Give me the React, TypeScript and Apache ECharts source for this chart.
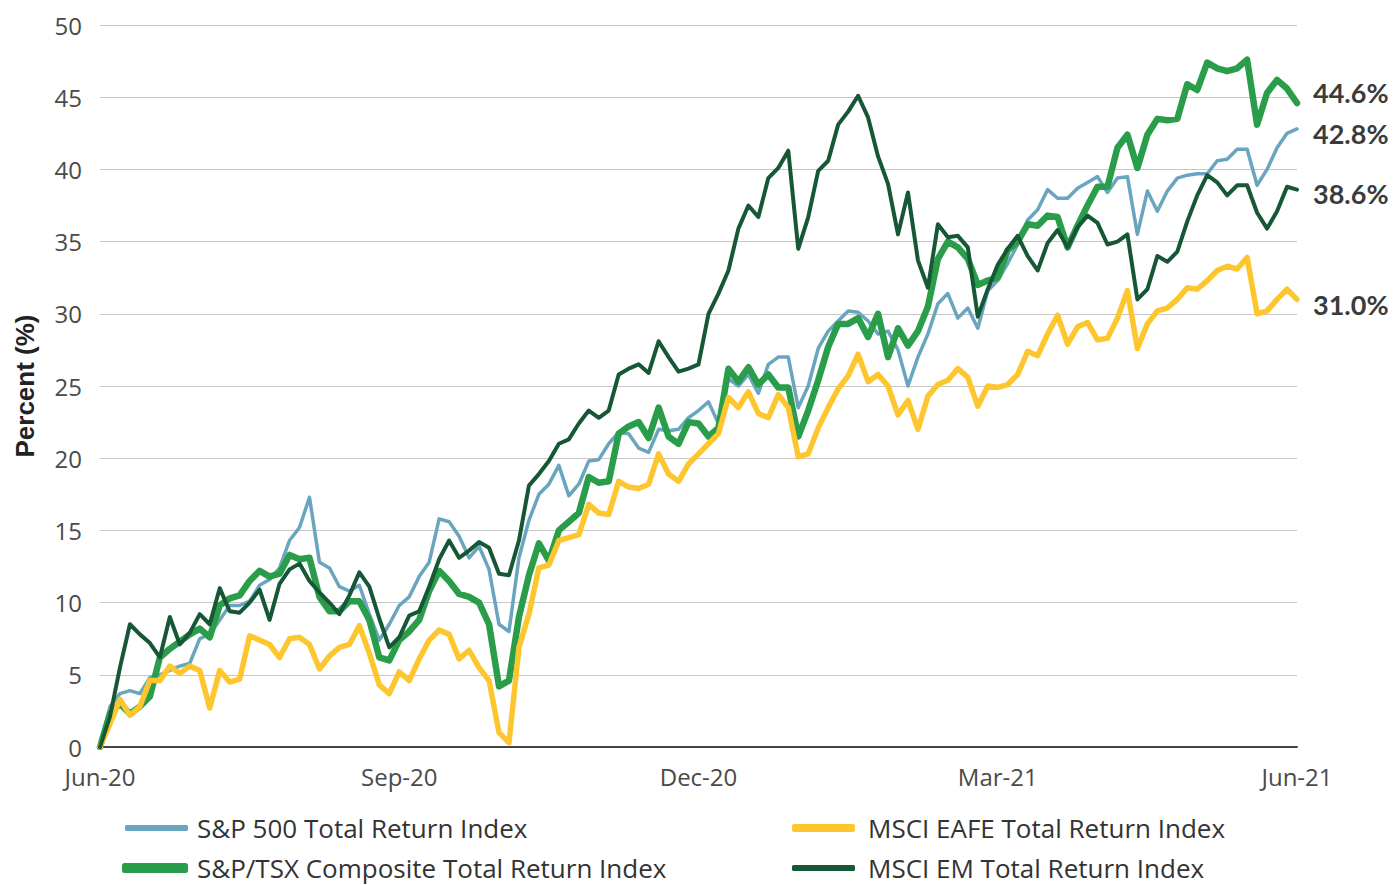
import React, { useEffect, useRef } from "react";
import * as echarts from "echarts";

const xTickLabels = ["Jun-20", "Sep-20", "Dec-20", "Mar-21", "Jun-21"];
const yTicks = [0, 5, 10, 15, 20, 25, 30, 35, 40, 45, 50];

const seriesNames = [
  "S&P 500 Total Return Index",
  "S&P/TSX Composite Total Return Index",
  "MSCI EAFE Total Return Index",
  "MSCI EM Total Return Index",
];

const sp500 = [
  0, 2.8, 3.7, 3.9, 3.7, 4.8, 5.0, 5.3, 5.6, 5.8, 7.5, 7.8, 8.8, 9.8, 9.8, 10.1, 11.2, 11.6, 12.4, 14.3, 15.2,
  17.3, 12.8, 12.4, 11.1, 10.8, 11.2, 9.2, 7.4, 8.5, 9.8, 10.4, 11.8, 12.8, 15.8, 15.6, 14.6, 13.1, 13.9, 12.3, 8.5,
  8.0, 13.1, 15.7, 17.5, 18.2, 19.5, 17.4, 18.2, 19.8, 19.9, 21.0, 21.8, 21.7, 20.7, 20.4, 22.0, 21.9, 22.0, 22.8, 23.3,
  23.9, 22.4, 25.5, 25.0, 25.8, 24.5, 26.5, 27.0, 27.0, 23.5, 25.0, 27.6, 28.8, 29.5, 30.2, 30.1, 29.5, 28.6, 28.8, 27.5,
  25.0, 27.0, 28.6, 30.7, 31.4, 29.7, 30.4, 29.0, 31.6, 32.3, 33.5, 34.8, 36.5, 37.2, 38.6, 38.0, 38.0, 38.7, 39.1, 39.5,
  38.4, 39.4, 39.5, 35.5, 38.5, 37.1, 38.5, 39.4, 39.6, 39.7, 39.7, 40.6, 40.7, 41.4, 41.4, 38.9, 40.0, 41.5, 42.5, 42.8,
];

const tsx = [
  0, 2.3, 3.0, 2.3, 2.8, 3.5, 6.2, 6.8, 7.3, 7.8, 8.2, 7.6, 9.8, 10.3, 10.5, 11.5, 12.2, 11.8, 12.0, 13.3, 13.0,
  13.1, 10.4, 9.4, 9.4, 10.1, 10.1, 8.8, 6.2, 6.0, 7.4, 8.0, 8.8, 10.8, 12.2, 11.5, 10.6, 10.4, 10.0, 8.5, 4.2,
  4.6, 9.0, 11.9, 14.1, 12.9, 15.0, 15.6, 16.2, 18.7, 18.3, 18.4, 21.7, 22.2, 22.5, 21.4, 23.5, 21.5, 21.0, 22.5, 22.4,
  21.5, 22.1, 26.2, 25.3, 26.3, 25.1, 25.8, 24.9, 24.9, 21.5, 23.3, 25.4, 27.7, 29.3, 29.3, 29.7, 28.4, 30.0, 27.0, 29.0,
  27.8, 28.8, 30.5, 33.8, 35.0, 34.6, 33.8, 32.0, 32.3, 32.5, 34.4, 35.0, 36.2, 36.1, 36.8, 36.7, 34.6, 36.1, 37.5, 38.8,
  38.8, 41.5, 42.4, 40.1, 42.4, 43.5, 43.4, 43.5, 45.9, 45.5, 47.4, 47.0, 46.8, 47.0, 47.6, 43.1, 45.3, 46.2, 45.6, 44.6,
];

const eafe = [
  0, 1.6, 3.3, 2.2, 2.8, 4.6, 4.6, 5.6, 5.1, 5.6, 5.3, 2.7, 5.3, 4.5, 4.7, 7.7, 7.4, 7.1, 6.2, 7.5, 7.6,
  7.1, 5.4, 6.3, 6.9, 7.1, 8.4, 6.5, 4.3, 3.7, 5.2, 4.6, 6.1, 7.4, 8.1, 7.8, 6.1, 6.7, 5.5, 4.6, 1.0,
  0.3, 6.9, 9.2, 12.4, 12.6, 14.3, 14.5, 14.7, 16.8, 16.2, 16.1, 18.4, 18.0, 17.9, 18.2, 20.3, 18.9, 18.4, 19.6, 20.3,
  21.0, 21.7, 24.2, 23.5, 24.6, 23.1, 22.8, 24.4, 23.5, 20.1, 20.3, 22.1, 23.5, 24.8, 25.7, 27.2, 25.3, 25.8, 25.0, 23.0,
  24.0, 22.0, 24.3, 25.1, 25.4, 26.2, 25.6, 23.6, 25.0, 24.9, 25.1, 25.8, 27.4, 27.1, 28.6, 29.9, 27.9, 29.1, 29.4, 28.2,
  28.3, 29.7, 31.6, 27.6, 29.3, 30.2, 30.4, 31.0, 31.8, 31.7, 32.3, 33.0, 33.3, 33.1, 33.9, 30.0, 30.2, 31.0, 31.7, 31.0,
];

const em = [
  0, 2.1, 5.5, 8.5, 7.8, 7.2, 6.2, 9.0, 7.1, 7.9, 9.2, 8.5, 11.0, 9.4, 9.3, 10.0, 10.9, 8.8, 11.3, 12.3, 12.7,
  11.5, 10.7, 10.0, 9.2, 10.5, 12.1, 11.1, 8.9, 6.9, 7.6, 9.1, 9.4, 11.1, 13.0, 14.3, 13.1, 13.6, 14.2, 13.8, 12.0,
  11.9, 14.3, 18.1, 18.9, 19.8, 21.0, 21.3, 22.4, 23.3, 22.8, 23.3, 25.8, 26.2, 26.5, 25.9, 28.1, 27.0, 26.0, 26.2, 26.5,
  30.0, 31.4, 33.0, 35.9, 37.5, 36.7, 39.4, 40.1, 41.3, 34.5, 36.7, 39.9, 40.6, 43.1, 44.0, 45.1, 43.6, 40.9, 39.0, 35.5,
  38.4, 33.7, 31.8, 36.2, 35.3, 35.4, 34.6, 29.8, 31.7, 33.4, 34.5, 35.4, 34.0, 33.0, 34.9, 35.8, 34.6, 36.0, 36.8, 36.3,
  34.8, 35.0, 35.5, 31.0, 31.7, 34.0, 33.6, 34.3, 36.4, 38.2, 39.6, 39.1, 38.2, 38.9, 38.9, 37.0, 35.9, 37.1, 38.8, 38.6,
];

const colors = ["#69a5bf", "#2a9d4a", "#fec62e", "#165736"];
const widths = [3.5, 6.5, 5.5, 4];
const legendHeights = [6, 10, 8, 6];
const labelOffsets = [[0, 5], [0, -10], [0, 5], [0, 4]];
const values = [sp500, tsx, eafe, em];

const regularFont = "Open Sans";

export default function App() {
  const ref = useRef<HTMLDivElement>(null);
  useEffect(() => {
    if (!ref.current) return;
    const chart = echarts.init(ref.current, null, { renderer: "svg" });
    const step = (values[0].length - 1) / (xTickLabels.length - 1);
    const series = values.map((arr, k) => ({
      name: seriesNames[k],
      type: "line",
      data: arr.map((v, i) => [i, v]),
      showSymbol: false,
      symbol: "none",
      smooth: false,
      z: 2 + k,
      lineStyle: { color: colors[k], width: widths[k], cap: "round", join: "round" },
      itemStyle: { color: colors[k] },
      endLabel: {
        show: true,
        distance: 16,
        offset: labelOffsets[k],
        formatter: (p: any) => Number(p.value[1]).toFixed(1) + "%",
        fontFamily: "Lato",
        fontWeight: "bold",
        fontSize: 27,
        color: "#3b3b3b",
      },
    }));
    const legendPos = [
      { left: 125, top: 815, w: 63, pad: 4 },
      { left: 122, top: 855, w: 66, pad: 4 },
      { left: 792, top: 815, w: 63, pad: 8 },
      { left: 792, top: 855, w: 63, pad: 8 },
    ];
    const legends = legendPos.map((p, k) => ({
      orient: "horizontal",
      left: p.left,
      top: p.top,
      padding: 0,
      itemWidth: p.w,
      itemHeight: legendHeights[k],
      icon: "roundRect",
      data: [{ name: seriesNames[k], icon: "roundRect", itemStyle: { color: colors[k] } }],
      textStyle: { fontFamily: regularFont, fontSize: 26, lineHeight: 26, color: "#333", padding: [0, 0, 0, p.pad] },
    }));
    chart.setOption({
      animation: false,
      backgroundColor: "#ffffff",
      grid: { left: 100, right: 100, top: 25, bottom: 138, containLabel: false, outerBoundsMode: "none" },
      xAxis: {
        type: "value",
        min: 0,
        max: values[0].length - 1,
        interval: step,
        axisLine: { show: true, lineStyle: { color: "#444", width: 2 } },
        axisTick: { show: false },
        splitLine: { show: false },
        axisLabel: {
          margin: 18,
          lineHeight: 22,
          fontFamily: regularFont,
          fontSize: 24,
          color: "#4a4a4a",
          formatter: (v: number) => xTickLabels[Math.round(v / step)] ?? "",
        },
      },
      yAxis: {
        type: "value",
        min: yTicks[0],
        max: yTicks[yTicks.length - 1],
        interval: yTicks[1] - yTicks[0],
        name: "Percent (%)",
        nameLocation: "middle",
        nameGap: 62,
        nameTextStyle: { fontFamily: "Liberation Sans", fontWeight: "bold", fontSize: 26, color: "#222" },
        axisLine: { show: false },
        axisTick: { show: false },
        splitLine: { lineStyle: { color: "#c8c8c8", width: 1 } },
        axisLabel: { margin: 18, lineHeight: 20, fontFamily: regularFont, fontSize: 24, color: "#4a4a4a" },
      },
      legend: legends,
      series,
    });
    return () => chart.dispose();
  }, []);
  return <div ref={ref} style={{ width: 1397, height: 885, position: "absolute", left: 0, top: 0 }} />;
}
